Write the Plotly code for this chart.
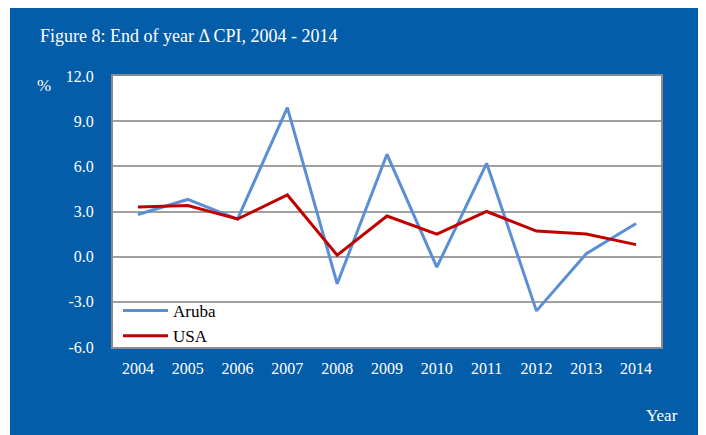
import plotly.graph_objects as go

years = ["2004", "2005", "2006", "2007", "2008", "2009", "2010", "2011", "2012", "2013", "2014"]
aruba = [2.8, 3.8, 2.5, 9.9, -1.8, 6.8, -0.7, 6.2, -3.6, 0.2, 2.2]
usa = [3.3, 3.4, 2.5, 4.1, 0.1, 2.7, 1.5, 3.0, 1.7, 1.5, 0.8]
y_ticks = [-6.0, -3.0, 0.0, 3.0, 6.0, 9.0, 12.0]
y_tick_text = ["-6.0", "-3.0", "0.0", "3.0", "6.0", "9.0", "12.0"]

BLUE_BG = "#045DA9"
FONT = "Liberation Serif"

W, H = 698, 427
L, R, T, B = 105, 45, 68, 88
PW, PH = W - L - R, H - T - B

fig = go.Figure()
fig.add_trace(go.Scatter(x=years, y=aruba, name="Aruba", mode="lines",
                         line=dict(color="#5A8FD6", width=3)))
fig.add_trace(go.Scatter(x=years, y=usa, name="USA", mode="lines",
                         line=dict(color="#C00000", width=3)))

fig.update_layout(
    width=W, height=H,
    paper_bgcolor=BLUE_BG,
    plot_bgcolor="white",
    margin=dict(l=L, r=R, t=T, b=B),
    font=dict(family=FONT, size=16, color="white"),
    showlegend=True,
    legend=dict(x=5 / PW, y=-7 / PH, xanchor="left", yanchor="bottom",
                bgcolor="rgba(0,0,0,0)", borderwidth=0,
                font=dict(family=FONT, size=17, color="black"),
                tracegroupgap=0, itemwidth=45),
    shapes=[
        dict(type="rect", xref="paper", yref="paper",
             x0=-L / PW, x1=(2 - L) / PW, y0=-B / PH, y1=1 + T / PH,
             fillcolor="white", line=dict(width=0), layer="below"),
    ],
    annotations=[
        dict(text="Figure 8: End of year \u0394 CPI, 2004 - 2014", xref="paper", yref="paper",
             x=(30 - L) / PW, y=1 + (T - 28) / PH, xanchor="left", yanchor="middle", showarrow=False,
             font=dict(family=FONT, size=18, color="white")),
        dict(text="%", xref="paper", yref="paper",
             x=(27 - L) / PW, y=1 - (77 - T) / PH, xanchor="left", yanchor="middle", showarrow=False,
             font=dict(family=FONT, size=17, color="white")),
        dict(text="Year", xref="paper", yref="paper",
             x=1 + (672 - L - PW) / PW, y=-(407 - T - PH) / PH, xanchor="right", yanchor="middle",
             showarrow=False, font=dict(family=FONT, size=17, color="white")),
    ],
)

fig.update_xaxes(
    type="category", range=[-0.5, len(years) - 0.5],
    showgrid=False, showline=True, mirror=True,
    linecolor="#8C8C8C", linewidth=2, ticks="", ticklabelstandoff=6,
    tickfont=dict(family=FONT, size=16, color="white"), fixedrange=True,
)
fig.update_yaxes(
    range=[-6, 12], tickvals=y_ticks, ticktext=y_tick_text,
    showgrid=True, gridcolor="#A0A0A0", gridwidth=1.5,
    showline=True, mirror=True, linecolor="#8C8C8C", linewidth=2,
    zeroline=False, ticks="", ticklabelstandoff=14,
    tickfont=dict(family=FONT, size=16, color="white"), fixedrange=True,
)

fig.write_html("out.html")
